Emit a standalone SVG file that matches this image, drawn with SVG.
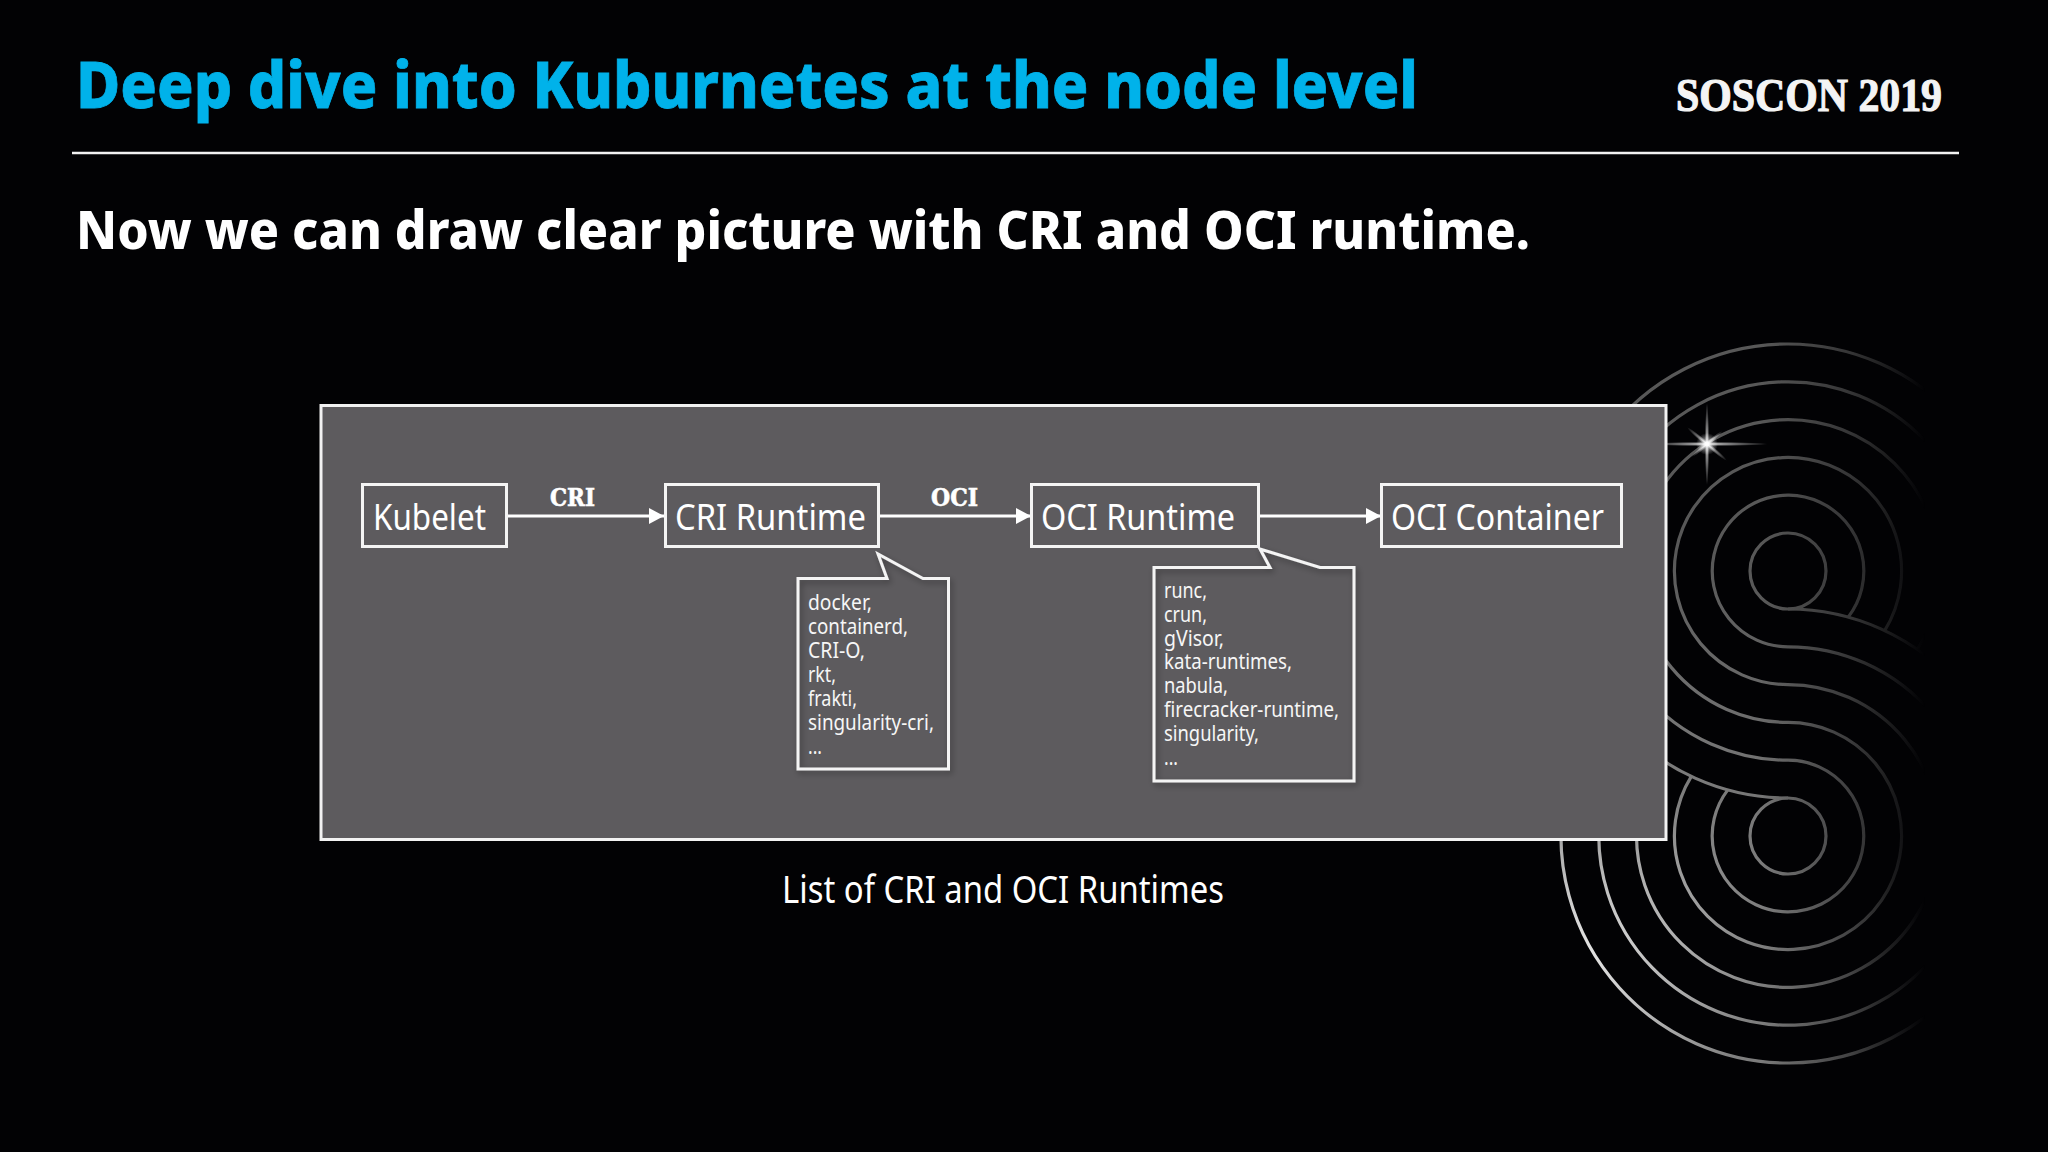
<svg xmlns="http://www.w3.org/2000/svg" width="2048" height="1152" viewBox="0 0 2048 1152">
<style>
.ui{font-family:"Noto Sans","Liberation Sans",sans-serif;fill:#fff}
.box{fill:none;stroke:#f4f4f4;stroke-width:3}
.node{font-size:36px}
.small{font-size:21.5px;fill:#f6f6f6}
.edge{font-family:"DejaVu Serif","Liberation Serif",serif;font-weight:700;font-size:24px;fill:#fff;stroke:#fff;stroke-width:.6}
.wire{stroke:#fff;stroke-width:3;fill:none;marker-end:url(#arrow)}
.ring{fill:none;stroke:url(#ringShade);stroke-width:3.2}
</style>
<defs>
<marker id="arrow" markerUnits="userSpaceOnUse" markerWidth="16" markerHeight="18" refX="15" refY="9" orient="auto"><path d="M0,1 L15,9 L0,17 Z" fill="#fff"/></marker>
<radialGradient id="ringShade" gradientUnits="userSpaceOnUse" cx="1570" cy="960" r="420"><stop offset="0" stop-color="#eeeeee"/><stop offset=".45" stop-color="#808080"/><stop offset="1" stop-color="#585858"/></radialGradient>
<linearGradient id="fade" gradientUnits="userSpaceOnUse" x1="1760" y1="0" x2="1925" y2="0"><stop offset="0" stop-color="#fff"/><stop offset=".55" stop-color="#999"/><stop offset="1" stop-color="#000"/></linearGradient>
<mask id="fadeMask" maskUnits="userSpaceOnUse" x="1500" y="300" width="548" height="800"><rect x="1500" y="300" width="548" height="800" fill="url(#fade)"/></mask>
<radialGradient id="flare"><stop offset="0" stop-color="#fff"/><stop offset=".35" stop-color="#fff" stop-opacity=".55"/><stop offset="1" stop-color="#fff" stop-opacity="0"/></radialGradient>
<filter id="soft" x="-10%" y="-10%" width="125%" height="125%"><feDropShadow dx="2" dy="3" stdDeviation="3" flood-color="#000" flood-opacity=".35"/></filter>
</defs>
<rect width="2048" height="1152" fill="#020204"/>

<g id="backdrop" mask="url(#fadeMask)">
<circle class="ring" cx="1788" cy="571" r="38"/>
<path class="ring" d="M1788,609 A227,227 0 1 1 1603.7,703.5"/>
<path class="ring" d="M1848.2,617.1 A75.8,75.8 0 1 0 1788,646.8 A189.2,189.2 0 1 1 1629.2,733.2"/>
<path class="ring" d="M1884.7,630.6 A113.6,113.6 0 1 0 1788,684.6 A151.4,151.4 0 1 1 1658.5,757.5"/>
<path class="ring" d="M1917.5,649.5 A151.4,151.4 0 1 0 1788,722.4 A113.6,113.6 0 1 1 1691.3,776.4"/>
<path class="ring" d="M1946.8,673.8 A189.2,189.2 0 1 0 1788,760.2 A75.8,75.8 0 1 1 1727.8,789.9"/>
<path class="ring" d="M1972.3,703.5 A227,227 0 1 0 1788,798"/>
<circle class="ring" cx="1788" cy="836" r="38"/>
</g>
<g id="star" fill="url(#flare)">
<ellipse cx="1707" cy="444" rx="62" ry="2.2"/>
<ellipse cx="1707" cy="444" rx="2.2" ry="42"/>
<ellipse cx="1707" cy="444" rx="26" ry="2.4" transform="rotate(40 1707 444)"/>
<ellipse cx="1707" cy="444" rx="20" ry="2.4" transform="rotate(-40 1707 444)"/>
<circle cx="1707" cy="444" r="11"/>
</g>

<g id="header">
<text x="76" y="108" font-family="'Noto Sans','Liberation Sans',sans-serif" font-weight="800" font-size="65" fill="#00b2ea" stroke="#00b2ea" stroke-width=".8" textLength="1342" lengthAdjust="spacingAndGlyphs">Deep dive into Kuburnetes at the node level</text>
<text x="1676" y="111" font-family="'Liberation Serif',serif" font-weight="700" font-size="47" fill="#f4f4f4" stroke="#f4f4f4" stroke-width="1.2" textLength="266" lengthAdjust="spacingAndGlyphs">SOSCON 2019</text>
<line x1="72" y1="153" x2="1959" y2="153" stroke="#f2f2f2" stroke-width="2.5"/>
<text x="76" y="249" font-family="'Noto Sans','Liberation Sans',sans-serif" font-weight="800" font-size="53" fill="#fff" textLength="1454" lengthAdjust="spacingAndGlyphs">Now we can draw clear picture with CRI and OCI runtime.</text>
</g>

<rect id="panel" x="321" y="405.500" width="1345" height="434" fill="#5d5b5e" stroke="#f2f2f2" stroke-width="3"/>

<g id="connectors">
<line class="wire" x1="507" y1="516" x2="664" y2="516"/>
<line class="wire" x1="879" y1="516" x2="1031" y2="516"/>
<line class="wire" x1="1259" y1="516" x2="1381" y2="516"/>
<text class="edge" x="550" y="506" textLength="45" lengthAdjust="spacingAndGlyphs">CRI</text>
<text class="edge" x="931" y="506" textLength="47" lengthAdjust="spacingAndGlyphs">OCI</text>
</g>

<g id="kubelet"><rect class="box" x="362.500" y="484.500" width="144" height="62"/><text class="ui node" x="373" y="530" textLength="113" lengthAdjust="spacingAndGlyphs">Kubelet</text></g>
<g id="cri-runtime"><rect class="box" x="665.500" y="484.500" width="213" height="62"/><text class="ui node" x="675" y="530" textLength="191" lengthAdjust="spacingAndGlyphs">CRI Runtime</text></g>
<g id="oci-runtime"><rect class="box" x="1031.500" y="484.500" width="227" height="62"/><text class="ui node" x="1041" y="530" textLength="194" lengthAdjust="spacingAndGlyphs">OCI Runtime</text></g>
<g id="oci-container"><rect class="box" x="1381.500" y="484.500" width="240" height="62"/><text class="ui node" x="1391" y="530" textLength="213" lengthAdjust="spacingAndGlyphs">OCI Container</text></g>

<g id="cri-list">
<path class="box" filter="url(#soft)" d="M798,578.500 H887 L878,554 L923,578.500 H948.500 V769 H798 Z"/>
<text class="ui small" x="808" y="610" textLength="64" lengthAdjust="spacingAndGlyphs">docker,</text>
<text class="ui small" x="808" y="634" textLength="100" lengthAdjust="spacingAndGlyphs">containerd,</text>
<text class="ui small" x="808" y="658" textLength="57" lengthAdjust="spacingAndGlyphs">CRI-O,</text>
<text class="ui small" x="808" y="682" textLength="28" lengthAdjust="spacingAndGlyphs">rkt,</text>
<text class="ui small" x="808" y="706" textLength="49" lengthAdjust="spacingAndGlyphs">frakti,</text>
<text class="ui small" x="808" y="730" textLength="126" lengthAdjust="spacingAndGlyphs">singularity-cri,</text>
<text class="ui small" x="808" y="754" textLength="14" lengthAdjust="spacingAndGlyphs">...</text>
</g>
<g id="oci-list">
<path class="box" filter="url(#soft)" d="M1154,567.500 H1270 L1260,549 L1320,567.500 H1354 V781 H1154 Z"/>
<text class="ui small" x="1164" y="598" textLength="43" lengthAdjust="spacingAndGlyphs">runc,</text>
<text class="ui small" x="1164" y="622" textLength="43" lengthAdjust="spacingAndGlyphs">crun,</text>
<text class="ui small" x="1164" y="646" textLength="60" lengthAdjust="spacingAndGlyphs">gVisor,</text>
<text class="ui small" x="1164" y="669" textLength="128" lengthAdjust="spacingAndGlyphs">kata-runtimes,</text>
<text class="ui small" x="1164" y="693" textLength="64" lengthAdjust="spacingAndGlyphs">nabula,</text>
<text class="ui small" x="1164" y="717" textLength="175" lengthAdjust="spacingAndGlyphs">firecracker-runtime,</text>
<text class="ui small" x="1164" y="741" textLength="95" lengthAdjust="spacingAndGlyphs">singularity,</text>
<text class="ui small" x="1164" y="765" textLength="14" lengthAdjust="spacingAndGlyphs">...</text>
</g>
<text id="caption" class="ui" x="782" y="903" font-size="38" textLength="442" lengthAdjust="spacingAndGlyphs">List of CRI and OCI Runtimes</text>
</svg>
